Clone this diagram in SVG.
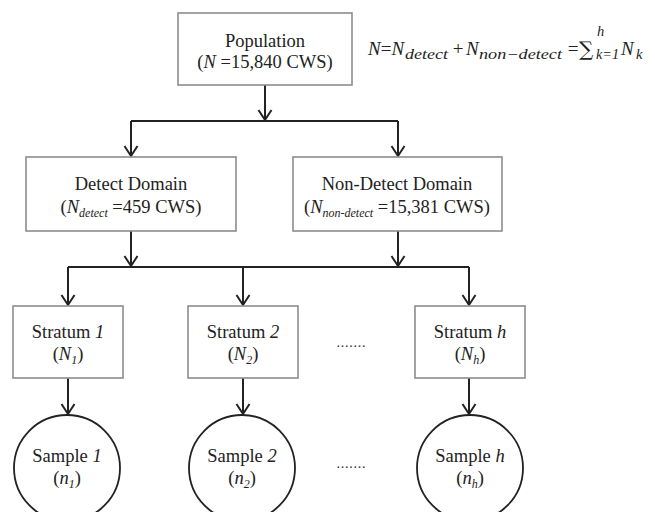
<svg xmlns="http://www.w3.org/2000/svg" width="655" height="512" viewBox="0 0 655 512">
<defs>
<style>
.box{fill:#fff;stroke:#8c8c8c;stroke-width:1.6}
.circ{fill:#fff;stroke:#222;stroke-width:1.8}
.t{font-family:"Liberation Serif","Times New Roman",serif;font-size:18.5px;fill:#222;text-anchor:middle}
.i{font-style:italic}
.sub{font-style:italic;font-size:12px}
.f{font-family:"Liberation Serif","Times New Roman",serif;font-size:19px;fill:#222}
.fs{font-family:"Liberation Serif","Times New Roman",serif;font-size:14.5px;font-style:italic;fill:#222}
.con{fill:none;stroke:#222;stroke-width:2}
.dots{font-family:"Liberation Serif",serif;font-size:14px;fill:#333;text-anchor:middle}
</style>
<marker id="arr" viewBox="-12 -8 14 16" refX="0" refY="0" markerWidth="14" markerHeight="16" markerUnits="userSpaceOnUse" orient="auto" overflow="visible">
<path d="M-10,-6.5 L0,0 L-10,6.5" fill="none" stroke="#222" stroke-width="2"/>
</marker>
</defs>
<g id="connectors">
<path class="con" d="M265,85 V120" marker-end="url(#arr)"/>
<path class="con" d="M131,121 H398"/>
<path class="con" d="M131,121 V156" marker-end="url(#arr)"/>
<path class="con" d="M398,121 V156" marker-end="url(#arr)"/>
<path class="con" d="M131,231 V266" marker-end="url(#arr)"/>
<path class="con" d="M398,231 V266" marker-end="url(#arr)"/>
<path class="con" d="M68,267 H469"/>
<path class="con" d="M68,267 V305" marker-end="url(#arr)"/>
<path class="con" d="M243,267 V305" marker-end="url(#arr)"/>
<path class="con" d="M469,267 V305" marker-end="url(#arr)"/>
<path class="con" d="M68,378 V414" marker-end="url(#arr)"/>
<path class="con" d="M243,378 V414" marker-end="url(#arr)"/>
<path class="con" d="M469,378 V414" marker-end="url(#arr)"/>
</g>
<g id="population">
<rect class="box" x="178" y="13" width="174" height="72"/>
<text class="t" x="265" y="47">Population</text>
<text class="t" x="265" y="68">(<tspan class="i">N</tspan> =15,840 CWS)</text>
</g>
<g id="formula">
<text class="f" x="368" y="55"><tspan font-style="italic">N</tspan>=<tspan font-style="italic">N</tspan></text>
<text class="fs" x="405" y="59" textLength="43" lengthAdjust="spacingAndGlyphs">detect</text>
<text class="f" x="458" y="55" text-anchor="middle">+</text>
<text class="f" x="466" y="55" font-style="italic">N</text>
<text class="fs" x="479" y="59" textLength="83" lengthAdjust="spacingAndGlyphs">non−detect</text>
<text class="f" x="573" y="55" text-anchor="middle">=</text>
<text x="579" y="56" font-family="'DejaVu Serif',serif" font-size="20" fill="#222">∑</text>
<text class="fs" x="597" y="36">h</text>
<text class="fs" x="596" y="59" textLength="23" lengthAdjust="spacingAndGlyphs">k=1</text>
<text class="f" x="621" y="55" font-style="italic">N</text>
<text class="fs" x="636" y="59">k</text>
</g>
<g id="detect">
<rect class="box" x="26" y="157" width="210" height="74"/>
<text class="t" x="131" y="190">Detect Domain</text>
<text class="t" x="131" y="213">(<tspan class="i">N</tspan><tspan class="sub" dy="4">detect</tspan><tspan dy="-4"> =459 CWS)</tspan></text>
</g>
<g id="nondetect">
<rect class="box" x="293" y="157" width="209" height="74"/>
<text class="t" x="397" y="190">Non-Detect Domain</text>
<text class="t" x="397" y="213">(<tspan class="i">N</tspan><tspan class="sub" dy="4">non-detect</tspan><tspan dy="-4"> =15,381 CWS)</tspan></text>
</g>
<g id="stratum1">
<rect class="box" x="13" y="306" width="110" height="72"/>
<text class="t" x="68" y="338">Stratum <tspan class="i">1</tspan></text>
<text class="t" x="68" y="360">(<tspan class="i">N</tspan><tspan class="sub" dy="4">1</tspan><tspan dy="-4">)</tspan></text>
</g>
<g id="stratum2">
<rect class="box" x="188" y="306" width="110" height="72"/>
<text class="t" x="243" y="338">Stratum <tspan class="i">2</tspan></text>
<text class="t" x="243" y="360">(<tspan class="i">N</tspan><tspan class="sub" dy="4">2</tspan><tspan dy="-4">)</tspan></text>
</g>
<g id="stratumh">
<rect class="box" x="415" y="306" width="110" height="72"/>
<text class="t" x="470" y="338">Stratum <tspan class="i">h</tspan></text>
<text class="t" x="470" y="360">(<tspan class="i">N</tspan><tspan class="sub" dy="4">h</tspan><tspan dy="-4">)</tspan></text>
</g>
<g id="dots1"><text class="dots" x="351" y="347" textLength="29" lengthAdjust="spacing">.......</text></g>
<g id="sample1">
<ellipse class="circ" cx="67" cy="468" rx="53" ry="53"/>
<text class="t" x="67" y="462">Sample <tspan class="i">1</tspan></text>
<text class="t" x="67" y="484">(<tspan class="i">n</tspan><tspan class="sub" dy="4">1</tspan><tspan dy="-4">)</tspan></text>
</g>
<g id="sample2">
<ellipse class="circ" cx="242" cy="468" rx="53" ry="53"/>
<text class="t" x="242" y="462">Sample <tspan class="i">2</tspan></text>
<text class="t" x="242" y="484">(<tspan class="i">n</tspan><tspan class="sub" dy="4">2</tspan><tspan dy="-4">)</tspan></text>
</g>
<g id="sampleh">
<ellipse class="circ" cx="470" cy="468" rx="53" ry="53"/>
<text class="t" x="470" y="462">Sample <tspan class="i">h</tspan></text>
<text class="t" x="470" y="484">(<tspan class="i">n</tspan><tspan class="sub" dy="4">h</tspan><tspan dy="-4">)</tspan></text>
</g>
<g id="dots2"><text class="dots" x="351" y="468" textLength="29" lengthAdjust="spacing">.......</text></g>
</svg>
